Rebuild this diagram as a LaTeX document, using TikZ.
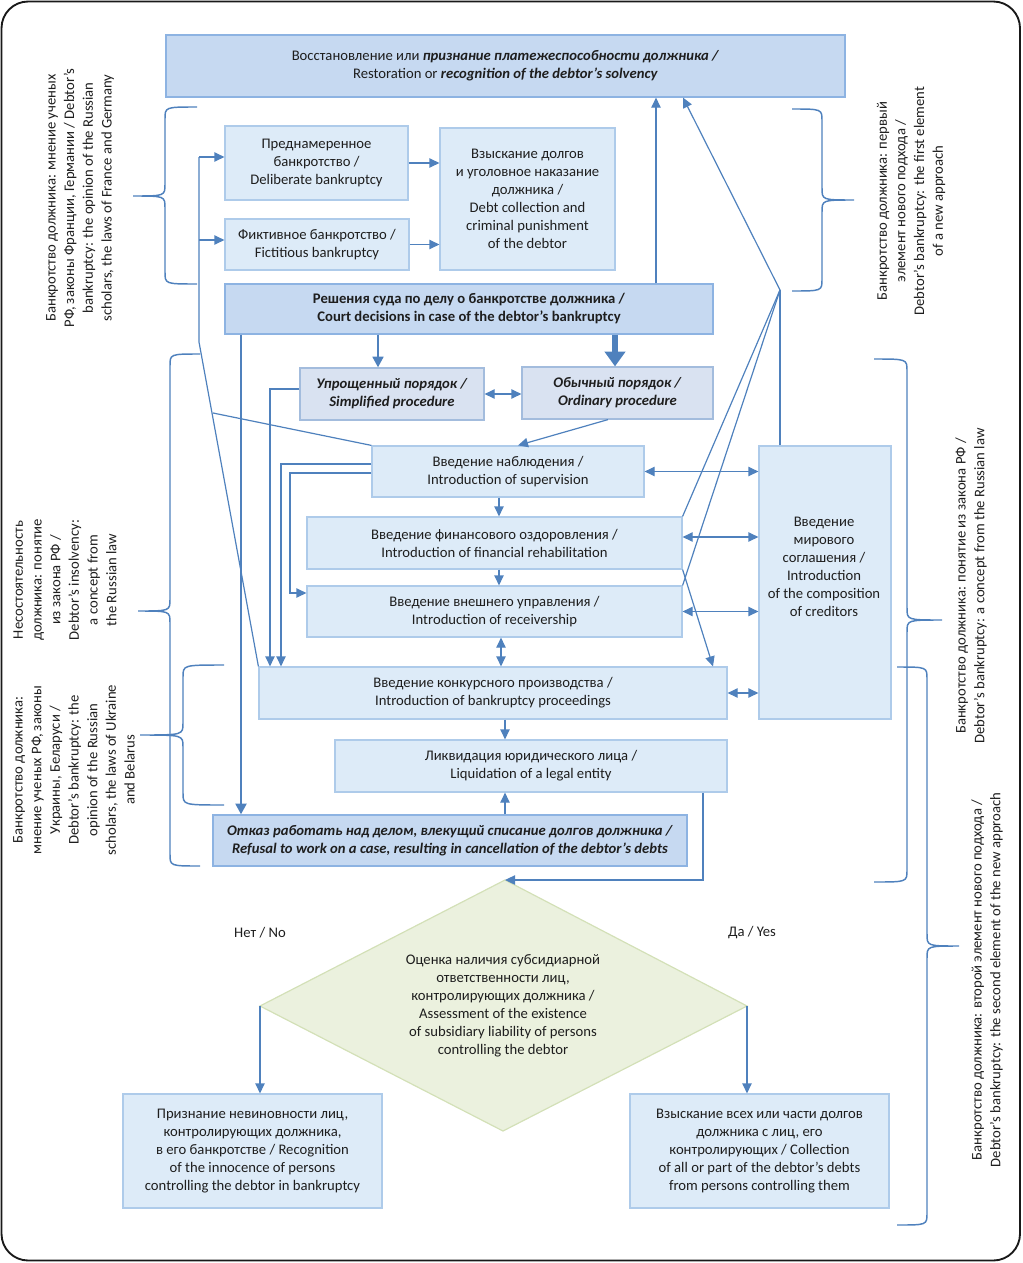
\documentclass[tikz,border=0pt]{standalone}
\usepackage{fontspec}
\setmainfont{Carlito}
\usetikzlibrary{arrows.meta}
\definecolor{ablue}{HTML}{4F81BD}
\definecolor{lfill}{HTML}{DDEBF8}
\definecolor{ldraw}{HTML}{AECBEA}
\definecolor{dfill}{HTML}{C6D9F1}
\definecolor{ddraw}{HTML}{8DB3E2}
\definecolor{mfill}{HTML}{D9E2F1}
\definecolor{mdraw}{HTML}{A3BCDD}
\definecolor{gfill}{HTML}{EBF1DE}
\definecolor{gdraw}{HTML}{D3E0B7}
\definecolor{txt}{HTML}{1E1E1E}
\newcommand{\boxat}[7]{\node[#6, minimum width={(#4-#2)*0.75pt}, minimum height={(#5-#3)*0.75pt}] (#1) at ({(#2+#4)/2},{(#3+#5)/2}) {#7};}
\newcommand{\mybrace}[6]{\draw[bracepath] (#1,#4) .. controls (#2,#4) .. (#2,{#4+12}) -- (#2,{#5-12}) .. controls (#2,#5) .. (#3,#5) .. controls (#2,#5) .. (#2,{#5+12}) -- (#2,{#6-12}) .. controls (#2,#6) .. (#1,#6);}
\begin{document}
\begin{tikzpicture}[x=0.75pt,y=-0.75pt,
  font=\fontsize{11}{13.5}\selectfont,
  every node/.style={text=txt},
  lbox/.style={draw=ldraw, fill=lfill, line width=0.9pt, align=center, inner sep=0pt},
  dbox/.style={draw=ddraw, fill=dfill, line width=0.9pt, align=center, inner sep=0pt},
  mbox/.style={draw=mdraw, fill=mfill, line width=0.9pt, align=center, inner sep=0pt},
  ln/.style={draw=ablue, line width=0.9pt},
  arr/.style={draw=ablue, line width=0.9pt, -{Triangle[length=7.5pt,width=7pt]}},
  dbl/.style={draw=ablue, line width=0.9pt, {Triangle[length=7.5pt,width=7pt]}-{Triangle[length=7.5pt,width=7pt]}},
  medarr/.style={draw=ablue, line width=1.9pt, -{Triangle[length=8pt,width=8pt]}},
  thickarr/.style={draw=ablue, line width=2.2pt, -{Triangle[length=8pt,width=8pt]}},
  bigarr/.style={draw=ablue, line width=4.5pt, -{Triangle[length=11pt,width=15pt]}},
  bracepath/.style={draw=ablue, line width=1.1pt},
  side/.style={align=center, rotate=90, inner sep=0pt, font=\fontsize{11}{14}\selectfont}
]
\useasboundingbox (0,0) rectangle (1022,1263);
\draw[black!90, line width=1.4pt, rounded corners=20pt] (1.5,1.5) rectangle (1020,1260.5);

% boxes
\boxat{top}{166}{35}{845}{97}{dbox}{Восстановление или \textbf{\textit{признание платежеспособности должника /}}\\Restoration or \textbf{\textit{recognition of the debtor’s solvency}}}
\boxat{delib}{225}{126}{408}{200}{lbox}{Преднамеренное\\банкротство /\\Deliberate bankruptcy}
\boxat{fict}{225}{219}{409}{270}{lbox}{Фиктивное банкротство /\\Fictitious bankruptcy}
\boxat{vzysk}{440}{128}{615}{270}{lbox}{Взыскание долгов\\и уголовное наказание\\должника /\\Debt collection and\\criminal punishment\\of the debtor}
\boxat{court}{225}{284}{713}{334}{dbox}{\textbf{Решения суда по делу о банкротстве должника /}\\\textbf{Court decisions in case of the debtor’s bankruptcy}}
\boxat{simp}{300}{368}{484}{420}{mbox}{\textbf{\textit{Упрощенный порядок /}}\\\textbf{\textit{Simplified procedure}}}
\boxat{ord}{522}{367}{713}{419}{mbox}{\textbf{\textit{Обычный порядок /}}\\\textbf{\textit{Ordinary procedure}}}
\boxat{sup}{372}{446}{644}{497}{lbox}{Введение наблюдения /\\Introduction of supervision}
\boxat{fin}{307}{517}{682}{569}{lbox}{Введение финансового оздоровления /\\Introduction of financial rehabilitation}
\boxat{rec}{307}{586}{682}{637}{lbox}{Введение внешнего управления /\\Introduction of receivership}
\boxat{bkr}{259}{667}{727}{719}{lbox}{Введение конкурсного производства /\\Introduction of bankruptcy proceedings}
\boxat{liq}{335}{740}{727}{792}{lbox}{Ликвидация юридического лица /\\Liquidation of a legal entity}
\boxat{refu}{213}{815}{687}{866}{dbox}{\textbf{\textit{Отказ работать над делом, влекущий списание долгов должника /}}\\\textbf{\textit{Refusal to work on a case, resulting in cancellation of the debtor’s debts}}}
\boxat{mir}{759}{446}{891}{719}{lbox}{}
\node[align=center, inner sep=0pt] (mirtext) at (824,567) {Введение\\мирового\\соглашения /\\Introduction\\of the composition\\of creditors};
\boxat{innoc}{123}{1094}{382}{1208}{lbox}{Признание невиновности лиц,\\контролирующих должника,\\в его банкротстве / Recognition\\of the innocence of persons\\controlling the debtor in bankruptcy}
\boxat{coll}{630}{1094}{889}{1208}{lbox}{Взыскание всех или части долгов\\должника с лиц, его\\контролирующих / Collection\\of all or part of the debtor’s debts\\from persons controlling them}

% diamond
\coordinate (dT) at (505,880);
\coordinate (dR) at (747,1006);
\coordinate (dB) at (503,1131);
\coordinate (dL) at (260,1006);
\draw[draw=gdraw, fill=gfill, line width=0.9pt] (dT) -- (dR) -- (dB) -- (dL) -- cycle;
\node[align=center, inner sep=0pt] (assess) at (503,1006) {Оценка наличия субсидиарной\\ответственности лиц,\\контролирующих должника /\\Assessment of the existence\\of subsidiary liability of persons\\controlling the debtor};
\node (no) at (260,933) {Нет / No};
\node (yes) at (752,933) {Да / Yes};

% helper coordinates
\coordinate (aD) at (199,157);
\coordinate (aF) at (199,240);
\coordinate (bendL) at (199,342);
\coordinate (meetL) at (213,413);
\coordinate (s1) at (270,389);
\coordinate (s2) at (281,464);
\coordinate (s3) at (290,473);
\coordinate (s3b) at (290,593);
\coordinate (conv) at (780,290);
\coordinate (t1) at (241,0);
\coordinate (t2) at (656,0);
\coordinate (t3) at (378,0);
\coordinate (t4) at (615,0);
\coordinate (t5) at (608,0);
\coordinate (t6) at (518,0);
\coordinate (t7) at (499,0);
\coordinate (t8) at (501,0);
\coordinate (t9) at (505,0);
\coordinate (t10) at (703,0);
\coordinate (t11) at (713,0);
\coordinate (t12) at (683,0);
\coordinate (y537) at (0,537);

% connectors
\draw[arr] (delib.east) -- (vzysk.west |- delib.east);
\draw[arr] (fict.east) -- (vzysk.west |- fict.east);
\draw[arr] (aD) -- (delib.west |- aD);
\draw[arr] (aF) -- (fict.west |- aF);
\draw[ln] (aD) -- (bendL) -- (bkr.north west);
\draw[ln] (sup.north west) -- (meetL);
\draw[arr] (simp.west |- s1) -- (s1) -- (bkr.north -| s1);
\draw[arr] (sup.west |- s2) -- (s2) -- (bkr.north -| s2);
\draw[arr] (sup.west |- s3) -- (s3) -- (s3b) -- (rec.west |- s3b);
\draw[thickarr] (court.south -| t1) -- (refu.north -| t1);
\draw[arr] (court.north -| t2) -- (top.south -| t2);
\draw[medarr] (court.south -| t3) -- (simp.north -| t3);
\draw[bigarr] (court.south -| t4) -- (ord.north -| t4);
\draw[dbl] (simp.east) -- (ord.west |- simp.east);
\draw[arr] (ord.south -| t5) -- (sup.north -| t6);
\draw[dbl] (sup.east) -- (mir.west |- sup.east);
\draw[dbl] (fin.east |- y537) -- (mir.west |- y537);
\draw[dbl] (rec.east) -- (mir.west |- rec.east);
\draw[dbl] (bkr.east) -- (mir.west |- bkr.east);
\draw[arr] (sup.south -| t7) -- (fin.north -| t7);
\draw[arr] (fin.south -| t7) -- (rec.north -| t7);
\draw[dbl] (rec.south -| t8) -- (bkr.north -| t8);
\draw[arr] (bkr.south -| t9) -- (liq.north -| t9);
\draw[arr] (refu.north -| t9) -- (liq.south -| t9);
\draw[arr] (liq.south -| t10) |- (dT);
\draw[arr] (fin.south east) -- (bkr.north -| t11);
\draw[ln] (fin.north east) -- (conv);
\draw[ln] (rec.north east) -- (conv);
\draw[ln] (mir.north -| conv) -- (conv);
\draw[arr] (conv) -- (top.south -| t12);
\draw[arr] (dL) -- (innoc.north -| dL);
\draw[arr] (dR) -- (coll.north -| dR);

% braces
\mybrace{197}{165}{133}{107}{196}{284}
\mybrace{200}{170}{138}{354}{611}{866}
\mybrace{224}{183}{140}{665}{735}{805}
\mybrace{792}{822}{854}{109}{200}{291}
\mybrace{874}{907}{942}{359}{620}{882}
\mybrace{897}{927}{959}{667}{946}{1225}

% side labels
\node[side] (labA) at (80,198) {Банкротство должника: мнение ученых\\РФ, законы Франции, Германии / Debtor’s\\bankruptcy: the opinion of the Russian\\scholars, the laws of France and Germany};
\node[side] (labB) at (65,580) {Несостоятельность\\должника: понятие\\из закона РФ /\\Debtor’s insolvency:\\a concept from\\the Russian law};
\node[side] (labC) at (74,770) {Банкротство должника:\\мнение ученых РФ, законы\\Украины, Беларуси /\\Debtor’s bankruptcy: the\\opinion of the Russian\\scholars, the laws of Ukraine\\and Belarus};
\node[side] (labD) at (911,201) {Банкротство должника: первый\\элемент нового подхода /\\Debtor’s bankruptcy: the first element\\of a new approach};
\node[side] (labE) at (971,586) {Банкротство должника: понятие из закона РФ /\\Debtor’s bankruptcy: a concept from the Russian law};
\node[side] (labF) at (987,980) {Банкротство должника: второй элемент нового подхода /\\Debtor’s bankruptcy: the second element of the new approach};
\end{tikzpicture}
\end{document}
